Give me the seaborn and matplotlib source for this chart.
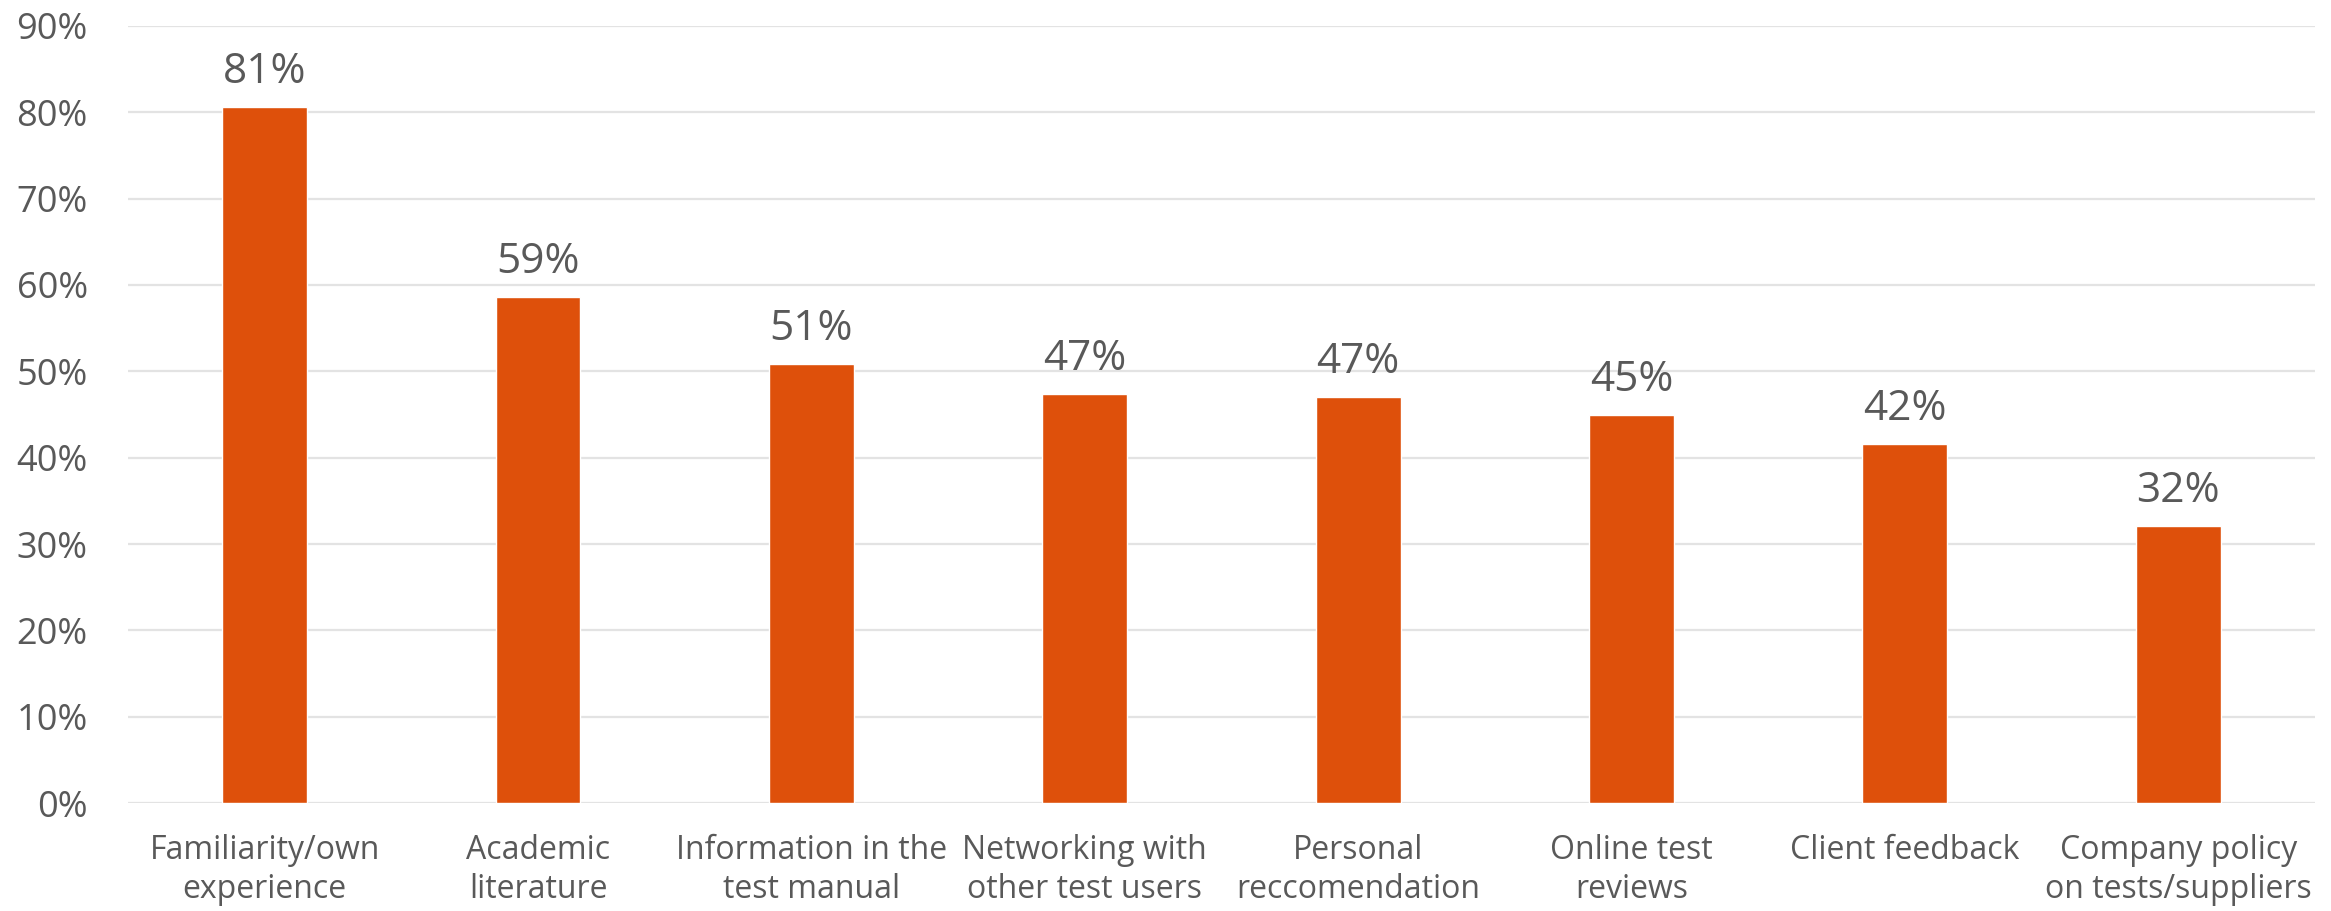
import matplotlib
matplotlib.use("Agg")
import matplotlib.pyplot as plt
import seaborn as sns
import pandas as pd

categories = [
    "Familiarity/own\nexperience",
    "Academic\nliterature",
    "Information in the\ntest manual",
    "Networking with\nother test users",
    "Personal\nreccomendation",
    "Online test\nreviews",
    "Client feedback",
    "Company policy\non tests/suppliers",
]
values = [80.6, 58.6, 50.9, 47.4, 47.0, 44.9, 41.6, 32.1]
yticks = [0, 10, 20, 30, 40, 50, 60, 70, 80, 90]

sns.set_theme(style="whitegrid")
plt.rcParams["font.family"] = ["Open Sans", "DejaVu Sans"]

text_color = "#595959"
bar_color = "#DE500B"
grid_color = "#E3E3E3"

df = pd.DataFrame({"category": categories, "value": values})

fig = plt.figure(figsize=(23.31, 9.11), dpi=100)
ax = fig.add_axes([0.0549, 0.1185, 0.9382, 0.853])

sns.barplot(data=df, x="category", y="value", color=bar_color, width=0.31,
            saturation=1, ax=ax)

ax.set_ylim(0, 90)
ax.set_xlim(-0.5, len(categories) - 0.5)
ax.set_yticks(yticks)
ax.set_yticklabels([f"{t}%" for t in yticks])
ax.set_xlabel("")
ax.set_ylabel("")

ax.grid(axis="y", color=grid_color, linewidth=1.6)
ax.grid(axis="x", visible=False)
ax.set_axisbelow(True)
for s in ax.spines.values():
    s.set_visible(False)

ax.tick_params(axis="y", length=0, pad=29, labelsize=26, labelcolor=text_color)
ax.tick_params(axis="x", length=0, pad=22, labelsize=23, labelcolor=text_color)
for lab in ax.get_xticklabels():
    lab.set_linespacing(1.25)

for i, v in enumerate(values):
    ax.annotate(f"{v:.0f}%", xy=(i, v), xytext=(0, 10), textcoords="offset points",
                ha="center", va="bottom", fontsize=30.5, color=text_color)

fig.savefig("out.png", dpi=100, facecolor="white")
